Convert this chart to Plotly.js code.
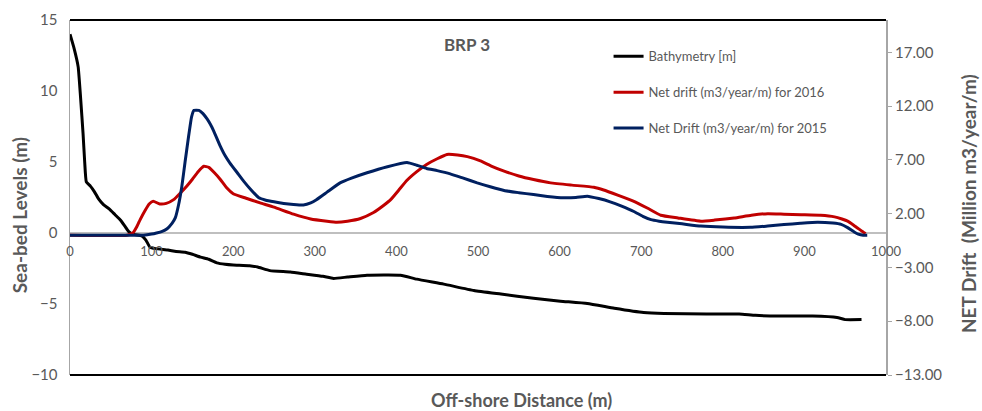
<!DOCTYPE html>
<html>
<head>
<meta charset="utf-8">
<script src="https://cdn.plot.ly/plotly-3.0.1.min.js"></script>
<style>html,body{margin:0;padding:0;background:#fff;}#chart{width:982px;height:411px;}</style>
</head>
<body>
<div id="chart"></div>
<script>
// Bathymetry (left axis, m)
var bathyX = [0,5,10,13,16,18,20,25,30,35,41,48,55,62,67,72,78,88,93,98,105,120,130,141,150,160,170,180,190,200,220,230,245,270,290,310,323,340,364,405,425,458,495,528,568,601,634,667,703,728,780,820,840,870,910,940,950,970];
var bathyY = [14.0,13.0,11.7,9.5,7.0,5.0,3.6,3.3,2.9,2.4,2.0,1.7,1.3,0.9,0.5,0.1,-0.1,-0.2,-0.5,-1.0,-1.1,-1.2,-1.3,-1.35,-1.5,-1.7,-1.85,-2.1,-2.2,-2.25,-2.3,-2.4,-2.65,-2.75,-2.9,-3.05,-3.2,-3.1,-2.97,-2.97,-3.25,-3.6,-4.05,-4.3,-4.6,-4.8,-4.97,-5.3,-5.6,-5.67,-5.7,-5.7,-5.8,-5.85,-5.85,-5.95,-6.1,-6.1];

// Net drift 2016 (right axis)
var drift16X = [0,70,77,82,86,92,97,102,110,118,127,135,143,150,157,164,170,177,184,192,200,215,233,250,274,295,315,327,340,356,372,385,393,403,413,425,437,450,462,475,487,503,517,532,550,568,589,615,642,654,672,691,708,724,745,773,790,814,835,855,875,896,920,937,946,953,960,965,970,975];
var drift16Y = [0,0,0.2,0.8,1.45,2.3,2.9,3.15,2.9,2.95,3.3,3.9,4.55,5.2,5.9,6.4,6.3,5.8,5.2,4.4,3.85,3.45,3.0,2.6,1.95,1.5,1.29,1.2,1.3,1.55,2.1,2.8,3.3,4.2,5.1,5.9,6.57,7.1,7.5,7.45,7.3,6.9,6.4,5.95,5.5,5.17,4.86,4.65,4.45,4.2,3.7,3.15,2.5,1.85,1.6,1.3,1.4,1.6,1.85,2.0,1.95,1.9,1.85,1.7,1.5,1.3,0.95,0.67,0.4,0.15];

// Net drift 2015 (right axis)
var drift15X = [0,50,90,100,106,113,119,125,129,133,137,141,145,149,152,158,163,168,172,176,184,190,196,205,213,222,231,240,250,262,274,286,295,302,315,331,345,364,389,413,425,437,450,466,482,499,515,532,550,568,585,605,620,634,648,662,676,691,702,712,722,732,750,773,800,834,855,875,895,916,935,945,953,961,966,972,977];
var drift15Y = [0,0,0,0.1,0.2,0.35,0.6,1.1,1.6,2.8,4.5,6.8,9.0,11.0,11.6,11.6,11.3,10.8,10.3,9.7,8.3,7.4,6.7,5.8,5.0,4.2,3.5,3.25,3.1,2.95,2.85,2.8,3.0,3.3,4.0,4.86,5.3,5.8,6.36,6.75,6.5,6.2,6.0,5.7,5.3,4.86,4.5,4.15,3.95,3.77,3.6,3.47,3.5,3.62,3.4,3.1,2.7,2.2,1.75,1.44,1.3,1.2,1.05,0.85,0.75,0.73,0.85,0.98,1.1,1.2,1.12,1.0,0.7,0.3,0.1,0,0];

var xTicks = [0,100,200,300,400,500,600,700,800,900,1000];
var leftTicks = [-10,-5,0,5,10,15];
var rightTicks = [-13,-8,-3,2,7,12,17];

var FONT = 'Lato, "Open Sans", "Liberation Sans", sans-serif';
var GREY = '#595959';

var traces = [
  {x: bathyX, y: bathyY, name: 'Bathymetry [m]', type: 'scatter', mode: 'lines',
   line: {color: '#000000', width: 3, shape: 'spline', smoothing: 0.4}, yaxis: 'y', legendgroup: 'a'},
  {x: drift16X, y: drift16Y, name: 'Net drift (m3/year/m) for 2016', type: 'scatter', mode: 'lines',
   line: {color: '#C00000', width: 3, shape: 'spline', smoothing: 0.4}, yaxis: 'y2', legendgroup: 'b'},
  {x: drift15X, y: drift15Y, name: 'Net Drift (m3/year/m) for 2015', type: 'scatter', mode: 'lines',
   line: {color: '#002060', width: 3, shape: 'spline', smoothing: 0.4}, yaxis: 'y2', legendgroup: 'c'}
];

var layout = {
  width: 982, height: 411,
  margin: {l: 70, r: 96, t: 20, b: 36},
  paper_bgcolor: '#ffffff', plot_bgcolor: '#ffffff',
  font: {family: FONT, color: GREY, size: 13},
  showlegend: true,
  title: {text: '<b>BRP 3</b>', xref: 'paper', x: 0.4865, xanchor: 'center', yref: 'paper', y: 0.93, yanchor: 'middle',
          font: {family: FONT, size: 17, color: GREY}},
  xaxis: {range: [0, 1000], tickvals: xTicks, anchor: 'free', position: 0.4,
          showline: false, zeroline: false, showgrid: false,
          ticks: 'outside', ticklen: 6, tickcolor: 'rgba(0,0,0,0)',
          tickfont: {family: FONT, size: 13, color: GREY}, fixedrange: true},
  yaxis: {range: [-10, 15], tickvals: leftTicks, showline: true, linecolor: '#A6A6A6', linewidth: 1.5,
          zeroline: true, zerolinecolor: '#BFBFBF', zerolinewidth: 1.5, showgrid: false,
          ticks: 'outside', ticklen: 8, tickcolor: 'rgba(0,0,0,0)',
          tickfont: {family: FONT, size: 15, color: GREY}},
  yaxis2: {range: [-13, 20], tickvals: rightTicks, tickformat: '.2f', overlaying: 'y', side: 'right',
           showline: true, linecolor: '#A6A6A6', linewidth: 2, zeroline: false, showgrid: false,
           ticks: 'outside', ticklen: 4, tickcolor: '#A6A6A6',
           tickfont: {family: FONT, size: 15, color: GREY}},
  legend: {x: 0.66, y: 0.94, xanchor: 'left', yanchor: 'top', bgcolor: 'rgba(0,0,0,0)',
           font: {family: FONT, size: 13, color: GREY}, tracegroupgap: 16, traceorder: 'grouped'},
  shapes: [
    {type: 'line', xref: 'paper', yref: 'paper', x0: 0, x1: 1, y0: 1, y1: 1, line: {color: '#000000', width: 2}},
    {type: 'line', xref: 'paper', yref: 'paper', x0: 0, x1: 1, y0: 0, y1: 0, line: {color: '#000000', width: 2}}
  ],
  annotations: [
    {text: '<b>Sea-bed Levels (m)</b>', xref: 'paper', yref: 'paper', x: -0.062, y: 0.451, textangle: -90,
     showarrow: false, xanchor: 'center', yanchor: 'middle', font: {family: FONT, size: 19, color: GREY}},
    {text: '<b>NET Drift  (Million m3/year/m)</b>', xref: 'paper', yref: 'paper', x: 1.102, y: 0.482, textangle: -90,
     showarrow: false, xanchor: 'center', yanchor: 'middle', font: {family: FONT, size: 19, color: GREY}},
    {text: '<b>Off-shore Distance (m)</b>', xref: 'paper', yref: 'paper', x: 0.5527, y: -0.07, 
     showarrow: false, xanchor: 'center', yanchor: 'middle', font: {family: FONT, size: 18, color: GREY}}
  ]
};

Plotly.newPlot('chart', traces, layout, {displayModeBar: false, staticPlot: true});
</script>
</body>
</html>
